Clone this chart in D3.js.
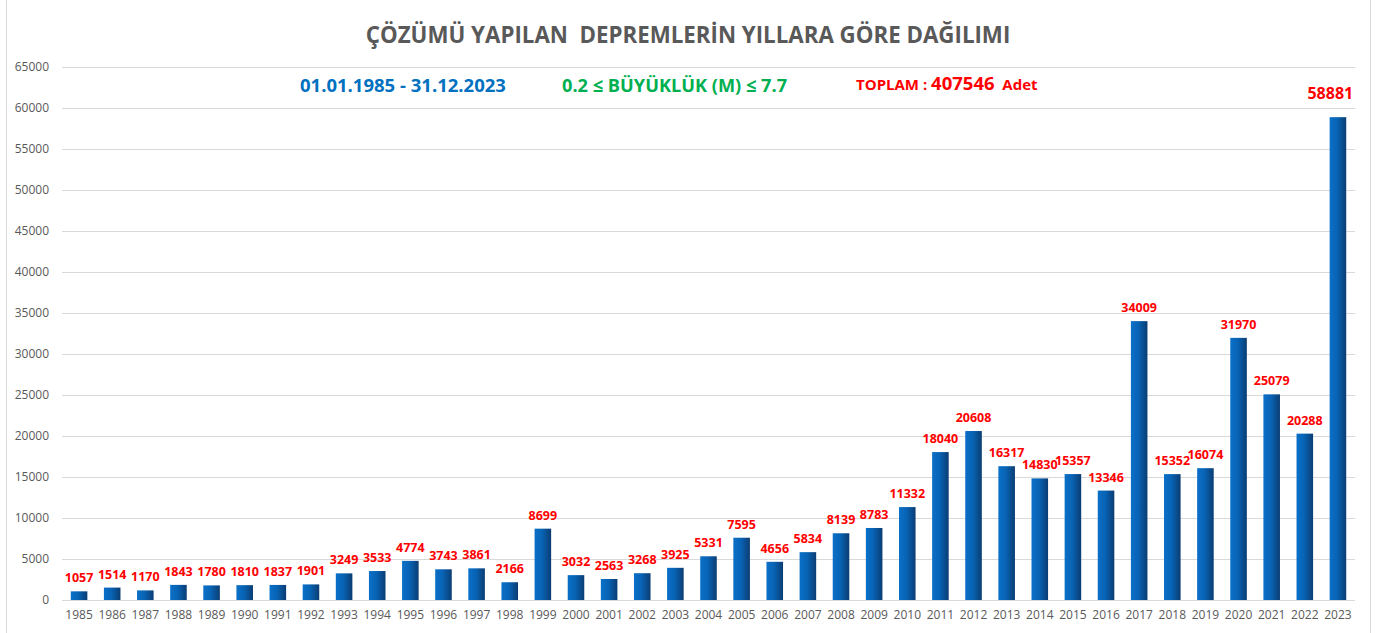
<!DOCTYPE html>
<html><head><meta charset="utf-8">
<script src="https://cdn.jsdelivr.net/npm/d3@7"></script>
<style>body{margin:0;background:#fff;} svg{display:block;}</style>
</head><body>
<script>
const years = ["1985","1986","1987","1988","1989","1990","1991","1992","1993","1994","1995","1996","1997","1998","1999","2000","2001","2002","2003","2004","2005","2006","2007","2008","2009","2010","2011","2012","2013","2014","2015","2016","2017","2018","2019","2020","2021","2022","2023"];
const counts = [1057,1514,1170,1843,1780,1810,1837,1901,3249,3533,4774,3743,3861,2166,8699,3032,2563,3268,3925,5331,7595,4656,5834,8139,8783,11332,18040,20608,16317,14830,15357,13346,34009,15352,16074,31970,25079,20288,58881];
const yTicks = [0,5000,10000,15000,20000,25000,30000,35000,40000,45000,50000,55000,60000,65000];
const titleText = "ÇÖZÜMÜ YAPILAN  DEPREMLERİN YILLARA GÖRE DAĞILIMI";
const subDate = "01.01.1985 - 31.12.2023";
const subMag = "0.2 ≤ BÜYÜKLÜK (M) ≤ 7.7";
const totalLabel = "TOPLAM : ", totalValue = "407546", totalUnit = "  Adet";

const W = 1381, H = 633;
const font = "'Open Sans', 'Liberation Sans', sans-serif";
const svg = d3.select("body").append("svg").attr("width", W).attr("height", H);

svg.append("rect").attr("x", 6.5).attr("y", -1).attr("width", 1364).attr("height", H + 2)
  .attr("fill", "#fff").attr("stroke", "#d9d9d9");

const defs = svg.append("defs");
const g1 = defs.append("linearGradient").attr("id", "barGrad").attr("x1", "0%").attr("y1", "0%").attr("x2", "100%").attr("y2", "0%");
g1.append("stop").attr("offset", "0%").attr("stop-color", "#0a70c9");
g1.append("stop").attr("offset", "45%").attr("stop-color", "#0863b4");
g1.append("stop").attr("offset", "100%").attr("stop-color", "#0b3d73");

const x = d3.scaleBand().domain(years).range([62.5, 1354.5]).paddingInner(0.5).paddingOuter(0.25);
const y = d3.scaleLinear().domain([0, 65000]).range([600, 67]);

// grid
svg.append("g").selectAll("line").data(yTicks).join("line")
  .attr("x1", 62).attr("x2", 1355)
  .attr("y1", d => Math.round(y(d)) + 0.5).attr("y2", d => Math.round(y(d)) + 0.5)
  .attr("stroke", "#d9d9d9").attr("stroke-width", 1);

// y axis labels
const yAxis = d3.axisLeft(y).tickValues(yTicks).tickSize(0).tickPadding(0).tickFormat(d3.format("d"));
const ya = svg.append("g").attr("transform", "translate(49,0)").call(yAxis);
ya.select(".domain").remove();
ya.selectAll("text").attr("fill", "#595959").attr("font-size", 12).attr("font-family", font);

// x axis labels
const xAxis = d3.axisBottom(x).tickSize(0).tickPadding(0);
const xa = svg.append("g").attr("transform", "translate(0,610)").call(xAxis);
xa.select(".domain").remove();
xa.selectAll("text").attr("fill", "#595959").attr("font-size", 12).attr("font-family", font);

// bars
svg.append("g").selectAll("rect").data(years).join("rect")
  .attr("x", d => x(d)).attr("width", x.bandwidth())
  .attr("y", (d, i) => y(counts[i])).attr("height", (d, i) => y(0) - y(counts[i]))
  .attr("fill", "url(#barGrad)");

// value labels
const last = years.length - 1;
svg.append("g").selectAll("text").data(years).join("text")
  .attr("x", (d, i) => i === last ? x(d) + x.bandwidth() + 7 : x(d) + x.bandwidth() / 2)
  .attr("y", (d, i) => y(counts[i]) - (i === last ? 18 : 9))
  .attr("text-anchor", (d, i) => i === last ? "end" : "middle")
  .attr("font-family", font).attr("font-weight", "bold")
  .attr("font-size", (d, i) => i === last ? 16 : 12.5)
  .attr("fill", "#ff0000")
  .text((d, i) => counts[i]);

// title
svg.append("text").attr("x", 688).attr("y", 43).attr("text-anchor", "middle")
  .style("white-space", "pre")
  .attr("font-family", font).attr("font-weight", "bold").attr("font-size", 22.3)
  .attr("fill", "#595959").text(titleText);

svg.append("text").attr("x", 300).attr("y", 92).attr("font-family", font).attr("font-weight", "bold")
  .attr("font-size", 18.5).attr("fill", "#0070c0").text(subDate);
svg.append("text").attr("x", 562).attr("y", 92).attr("font-family", font).attr("font-weight", "bold")
  .attr("font-size", 18.2).attr("fill", "#00b050").text(subMag);
const tt = svg.append("text").attr("x", 856).attr("y", 90).attr("font-family", font).attr("font-weight", "bold")
  .style("white-space", "pre").attr("fill", "#ff0000");
tt.append("tspan").attr("font-size", 15).text(totalLabel);
tt.append("tspan").attr("font-size", 18.5).text(totalValue);
tt.append("tspan").attr("font-size", 15).text(totalUnit);
</script>
</body></html>
